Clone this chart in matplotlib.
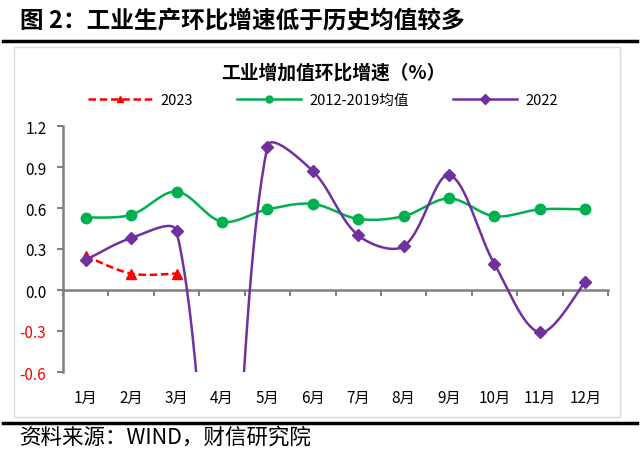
import numpy as np
import matplotlib
matplotlib.use("Agg")
from matplotlib import pyplot as plt
from matplotlib.lines import Line2D
from matplotlib.patches import Rectangle

plt.rcParams['font.family'] = ['Noto Sans CJK SC', 'DejaVu Sans']
plt.rcParams['axes.unicode_minus'] = False

# data
months = ['1月', '2月', '3月', '4月', '5月', '6月', '7月', '8月', '9月', '10月', '11月', '12月']
y2023 = [0.25, 0.12, 0.12]
avg_2012_2019 = [0.53, 0.55, 0.72, 0.50, 0.59, 0.63, 0.52, 0.54, 0.67, 0.54, 0.59, 0.59]
y2022 = [0.22, 0.38, 0.43, -2.4, 1.05, 0.87, 0.40, 0.32, 0.84, 0.19, -0.31, 0.06]
yticks = [-0.6, -0.3, 0.0, 0.3, 0.6, 0.9, 1.2]

# px per data unit, used so the smoothing works in screen space like Excel
XPX, YPX = 45.4, 136.0


def smooth(xs, ys, n=60):
    # smoothed line: cubic bezier, tangent split by neighbouring chord lengths
    p = np.column_stack([np.asarray(xs, float) * XPX, np.asarray(ys, float) * YPX])
    m = len(p)
    tan = np.zeros_like(p)
    for i in range(m):
        tan[i] = p[min(i + 1, m - 1)] - p[max(i - 1, 0)]
    d = np.linalg.norm(np.diff(p, axis=0), axis=1)
    out = [p[0]]
    for i in range(m - 1):
        p1, p2 = p[i], p[i + 1]
        dl = d[i - 1] if i > 0 else d[i]
        dr = d[i + 1] if i + 1 < m - 1 else d[i]
        c1 = p1 + tan[i] * d[i] / (3 * (dl + d[i]))
        c2 = p2 - tan[i + 1] * d[i] / (3 * (d[i] + dr))
        t = np.linspace(0, 1, n)[1:, None]
        seg = (1 - t) ** 3 * p1 + 3 * (1 - t) ** 2 * t * c1 + 3 * (1 - t) * t ** 2 * c2 + t ** 3 * p2
        out.extend(seg)
    out = np.array(out)
    return out[:, 0] / XPX, out[:, 1] / YPX


red = '#FF0000'
green = '#00B050'
purple = '#7030A0'
gray = '#808080'

fig = plt.figure(figsize=(6.4, 4.52), dpi=100)
ax = fig.add_axes([63 / 640, 1 - 373 / 452, 545 / 640, 246 / 452])

x = np.arange(len(months))

# 2023
sx, sy = smooth(x[:len(y2023)], y2023)
ax.plot(sx, sy, color=red, lw=1.8, ls=(0, (3, 1.5)), zorder=3)
ax.plot(x[:len(y2023)], y2023, ls='none', marker='^', ms=7, color=red, zorder=3)

# 2012-2019 average
sx, sy = smooth(x, avg_2012_2019)
ax.plot(sx, sy, color=green, lw=1.8, zorder=4)
ax.plot(x, avg_2012_2019, ls='none', marker='o', ms=7.5, color=green, zorder=4)

# 2022
sx, sy = smooth(x, y2022)
ax.plot(sx, sy, color=purple, lw=1.8, zorder=5)
ax.plot(x, y2022, ls='none', marker='D', ms=6.5, color=purple, zorder=5)

ax.set_xlim(-0.5, len(months) - 0.5)
ax.set_ylim(-0.6, 1.2)

for s in ['top', 'right']:
    ax.spines[s].set_visible(False)
ax.spines['left'].set_color(gray)
ax.spines['left'].set_linewidth(1.8)
ax.spines['bottom'].set_position(('data', 0))
ax.spines['bottom'].set_color(gray)
ax.spines['bottom'].set_linewidth(1.8)

ax.set_yticks(yticks)
ax.set_yticklabels([f'{v:.1f}' for v in yticks])
for lab, v in zip(ax.get_yticklabels(), yticks):
    if v < 0:
        lab.set_color(red)
ax.tick_params(axis='y', length=4, width=1.5, color=gray, pad=8, labelsize=11)

ax.set_xticks(np.arange(-0.5, len(months), 1.0))
ax.set_xticklabels([])
ax.tick_params(axis='x', length=4, width=1.5, color=gray, direction='out')

sec = ax.secondary_xaxis(0.0)
sec.set_xticks(x)
sec.set_xticklabels(months)
sec.spines['bottom'].set_visible(False)
sec.tick_params(length=0, pad=12, labelsize=11)

# inner title and legend
fig.text(333 / 640, 1 - 73 / 452, '工业增加值环比增速（%）', ha='center', va='center',
         fontsize=13.5, fontweight='bold')
handles = [
    Line2D([], [], color=red, lw=1.8, ls=(0, (3, 1.5)), marker='^', ms=5),
    Line2D([], [], color=green, lw=1.8, marker='o', ms=5),
    Line2D([], [], color=purple, lw=1.8, marker='D', ms=5),
]
fig.legend(handles, ['2023', '2012-2019均值', '2022'], loc='center',
           bbox_to_anchor=(323 / 640, 1 - 101 / 452), ncol=3, frameon=False,
           fontsize=10.5, handlelength=4.4, columnspacing=3.0, handletextpad=0.6)

# outer frame and header / footer
fig.patches.append(Rectangle((14 / 640, 1 - 418 / 452), 606 / 640, 370 / 452,
                             transform=fig.transFigure, fill=False,
                             edgecolor='#D9D9D9', lw=1))
fig.add_artist(Line2D([3 / 640, 637 / 640], [1 - 42 / 452] * 2, color='black', lw=2.5))
fig.add_artist(Line2D([3 / 640, 637 / 640], [1 - 424 / 452] * 2, color='black', lw=2.5))

fig.text(20 / 640, 1 - 21 / 452, '图 2：工业生产环比增速低于历史均值较多', ha='left', va='center',
         fontsize=17, fontweight='bold')
fig.text(20 / 640, 1 - 438 / 452, '资料来源：WIND，财信研究院', ha='left', va='center',
         fontsize=15.5, style='italic')

fig.savefig('out.png', dpi=100)
